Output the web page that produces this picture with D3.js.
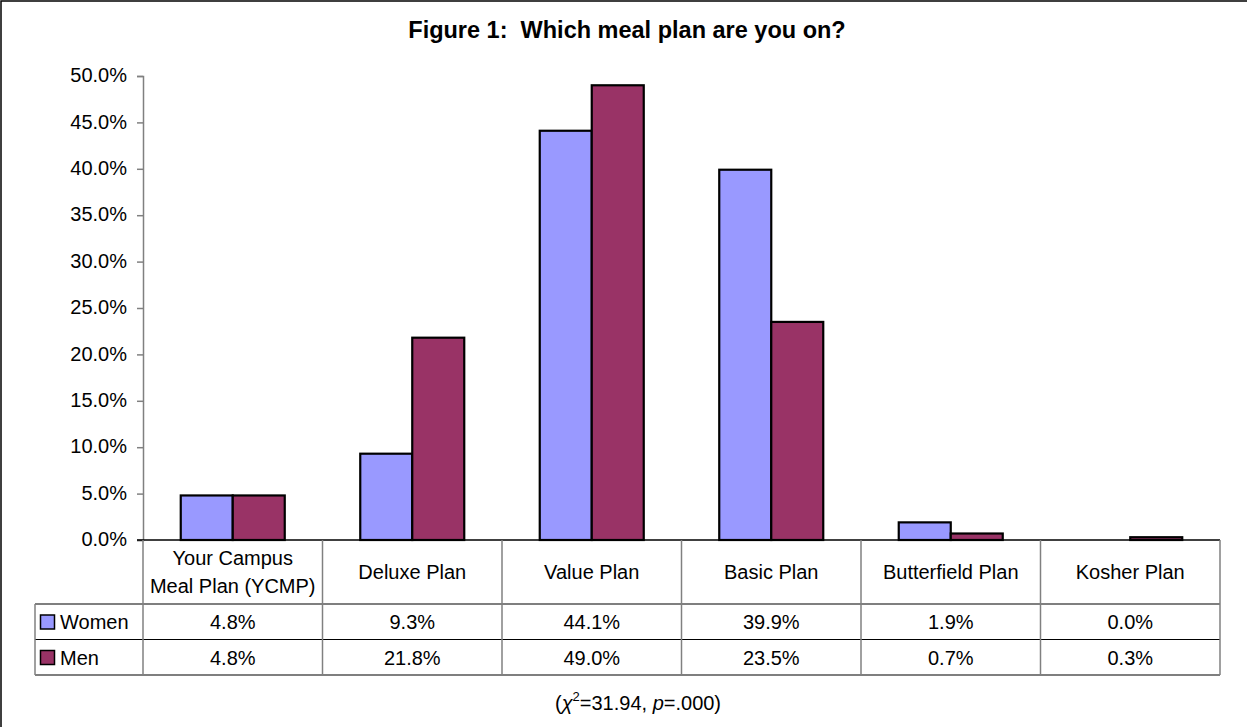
<!DOCTYPE html>
<html>
<head>
<meta charset="utf-8">
<script src="https://cdn.jsdelivr.net/npm/d3@7"></script>
<style>
  body { margin: 0; background: #fff; }
  svg { display: block; font-family: "Liberation Sans", Arial, sans-serif; }
</style>
</head>
<body>
<svg id="chart" width="1247" height="727"></svg>
<script>
const categories = [
  ["Your Campus", "Meal Plan (YCMP)"],
  ["Deluxe Plan"],
  ["Value Plan"],
  ["Basic Plan"],
  ["Butterfield Plan"],
  ["Kosher Plan"]
];
const seriesNames = ["Women", "Men"];
const women = [0.048, 0.093, 0.441, 0.399, 0.019, 0.000];
const men = [0.048, 0.218, 0.490, 0.235, 0.007, 0.003];
const colors = ["#9999FF", "#993366"];
const yTicks = [0, 0.05, 0.10, 0.15, 0.20, 0.25, 0.30, 0.35, 0.40, 0.45, 0.50];

const svg = d3.select("#chart")
const keys = categories.map((c) => c.join(" "))
const values = [women, men]

// outer frame, only top/left edges fall inside the window
svg.append("rect")
  .attr("x", 1).attr("y", 1)
  .attr("width", 1300).attr("height", 800)
  .attr("fill", "#fff")
  .attr("stroke", "#000")
  .attr("stroke-width", 1.5)

svg.append("text")
  .attr("x", 627).attr("y", 38)
  .attr("text-anchor", "middle")
  .attr("font-size", 23.5)
  .attr("font-weight", "bold")
  .style("white-space", "pre")
  .text("Figure 1:  Which meal plan are you on?")

const x = d3.scaleBand()
  .domain(keys)
  .range([143, 1220])

const x1 = d3.scaleBand()
  .domain(seriesNames)
  .range([0, x.bandwidth()])
  .paddingOuter(0.726)

const y = d3.scaleLinear()
  .domain([0, 0.5])
  .range([540, 76])

// y axis
const yAxis = svg.append("g")
  .attr("transform", "translate(143,0)")
  .call(d3.axisLeft(y).tickValues(yTicks).tickFormat(d3.format(".1%")).tickSize(6).tickPadding(10))
yAxis.attr("font-size", 20).attr("font-family", "Liberation Sans, Arial, sans-serif")
yAxis.select(".domain").attr("stroke", "#808080").attr("stroke-width", 1.5)
yAxis.selectAll(".tick line").attr("stroke", "#808080").attr("stroke-width", 1.5)
yAxis.selectAll(".tick text")
  .attr("fill", "#000")
  .attr("dy", "0.28em")

// bars
const groups = svg.append("g")
  .selectAll("g")
  .data(seriesNames)
  .join("g")
  .attr("fill", (d, i) => colors[i])

groups.selectAll("rect")
  .data((s, i) => values[i].map((v, j) => ({ s, v, k: keys[j] })))
  .join("rect")
  .attr("x", (d) => x(d.k) + x1(d.s))
  .attr("y", (d) => y(d.v))
  .attr("width", x1.bandwidth())
  .attr("height", (d) => y(0) - y(d.v))
  .attr("stroke", "#000")
  .attr("stroke-width", 2.2)

// x axis baseline
svg.append("line")
  .attr("x1", 137).attr("x2", 1220)
  .attr("y1", y(0)).attr("y2", y(0))
  .attr("stroke", "#000").attr("stroke-width", 1.5)

// data table
const rowTop = 604, rowH = 35.5
const table = svg.append("g")

table.selectAll("line.h")
  .data([rowTop, rowTop + rowH, rowTop + 2 * rowH])
  .join("line")
  .attr("x1", 35).attr("x2", 1220)
  .attr("y1", (d) => d).attr("y2", (d) => d)
  .attr("stroke", "#000").attr("stroke-width", 1.2)

table.selectAll("line.v")
  .data(keys.map((k) => x(k)).concat([1220]))
  .join("line")
  .attr("x1", (d) => d).attr("x2", (d) => d)
  .attr("y1", y(0)).attr("y2", rowTop + 2 * rowH)
  .attr("stroke", "#808080").attr("stroke-width", 1.5)

table.append("line")
  .attr("x1", 35).attr("x2", 35)
  .attr("y1", rowTop).attr("y2", rowTop + 2 * rowH)
  .attr("stroke", "#808080").attr("stroke-width", 1.5)

// category labels
table.selectAll("text.cat")
  .data(categories)
  .join("text")
  .attr("class", "cat")
  .attr("text-anchor", "middle")
  .attr("font-size", 20)
  .each(function (d, i) {
    const t = d3.select(this)
    const cx = x(keys[i]) + x.bandwidth() / 2
    const y0 = d.length === 1 ? 579 : 565
    d.forEach((line, j) => {
      t.append("tspan").attr("x", cx).attr("y", y0 + j * 28).text(line)
    })
  })

// values + legend keys
const fmt = d3.format(".1%")
seriesNames.forEach((s, i) => {
  const base = rowTop + i * rowH + 25
  table.append("rect")
    .attr("x", 40.5).attr("y", rowTop + i * rowH + 11)
    .attr("width", 14).attr("height", 14)
    .attr("fill", colors[i])
    .attr("stroke", "#000").attr("stroke-width", 1.5)
  table.append("text")
    .attr("x", 60).attr("y", base)
    .attr("font-size", 20)
    .text(s)
  table.selectAll("text.val" + i)
    .data(values[i])
    .join("text")
    .attr("x", (d, j) => x(keys[j]) + x.bandwidth() / 2)
    .attr("y", base)
    .attr("text-anchor", "middle")
    .attr("font-size", 20)
    .text((d) => fmt(d))
})

// footnote
const foot = svg.append("text")
  .attr("x", 638).attr("y", 710)
  .attr("text-anchor", "middle")
  .attr("font-size", 20)
foot.append("tspan").text("(")
foot.append("tspan").attr("font-style", "italic").text("χ")
foot.append("tspan").attr("font-size", 13).attr("dy", -9).text("2")
foot.append("tspan").attr("dy", 9).text("=31.94, ")
foot.append("tspan").attr("font-style", "italic").text("p")
foot.append("tspan").text("=.000)")
</script>
</body>
</html>
